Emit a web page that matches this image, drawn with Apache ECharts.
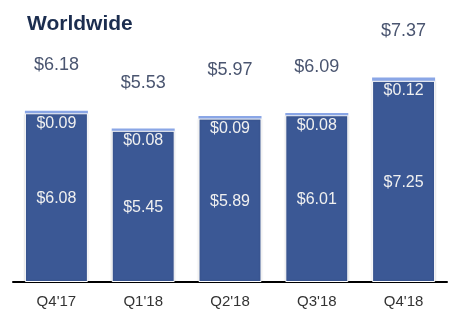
<!DOCTYPE html>
<html><head><meta charset="utf-8">
<script src="https://cdn.jsdelivr.net/npm/echarts@6/dist/echarts.min.js"></script>
<style>html,body{margin:0;padding:0;background:#fff}#c{width:460px;height:329px}</style>
</head><body><div id="c"></div>
<script>
var categories = ["Q4'17", "Q1'18", "Q2'18", "Q3'18", "Q4'18"];
var baseValues = [6.08, 5.45, 5.89, 6.01, 7.25];
var topValues = [0.09, 0.08, 0.09, 0.08, 0.12];
var totals = [6.18, 5.53, 5.97, 6.09, 7.37];

var chart = echarts.init(document.getElementById('c'));
var fam = 'Liberation Sans, Arial, sans-serif';
chart.setOption({
  animation: false,
  title: { text: 'Worldwide', left: 22, top: 9,
    textStyle: { fontFamily: fam, fontSize: 21, fontWeight: 'bold', color: '#1b2d4f' } },
  grid: { left: 13, right: 13, top: 60, bottom: 47 },
  xAxis: { type: 'category', data: categories,
    axisLine: { lineStyle: { color: '#000', width: 2 } },
    axisTick: { show: false },
    axisLabel: { fontFamily: fam, fontSize: 15, color: '#333', margin: 12 } },
  yAxis: { type: 'value', min: 0, max: 8, show: false, splitLine: { show: false } },
  series: [
    { type: 'bar', stack: 's', data: baseValues, barWidth: 63,
      itemStyle: { color: '#3b5895', borderColor: '#fff', borderWidth: 1,
        shadowColor: 'rgba(0,0,0,0.18)', shadowBlur: 2 },
      label: { show: true, position: 'inside', offset: [0, 1], fontFamily: fam, fontSize: 16, color: '#f0f0f0',
        formatter: function (p) { return '$' + p.value.toFixed(2); } } },
    { type: 'bar', stack: 's', data: topValues, barWidth: 63,
      itemStyle: { color: '#8aa6e6' },
      label: { show: true, position: 'bottom', distance: 2, fontFamily: fam, fontSize: 16, color: '#f0f0f0',
        formatter: function (p) { return '$' + p.value.toFixed(2); } } },
    { type: 'bar', stack: 's', data: totals.map(function () { return 0; }), barWidth: 63,
      itemStyle: { color: 'rgba(0,0,0,0)' },
      label: { show: true, position: 'top', distance: 37, fontFamily: fam, fontSize: 18, color: '#4a5570',
        formatter: function (p) { return '$' + totals[p.dataIndex].toFixed(2); } } }
  ]
});
</script></body></html>
